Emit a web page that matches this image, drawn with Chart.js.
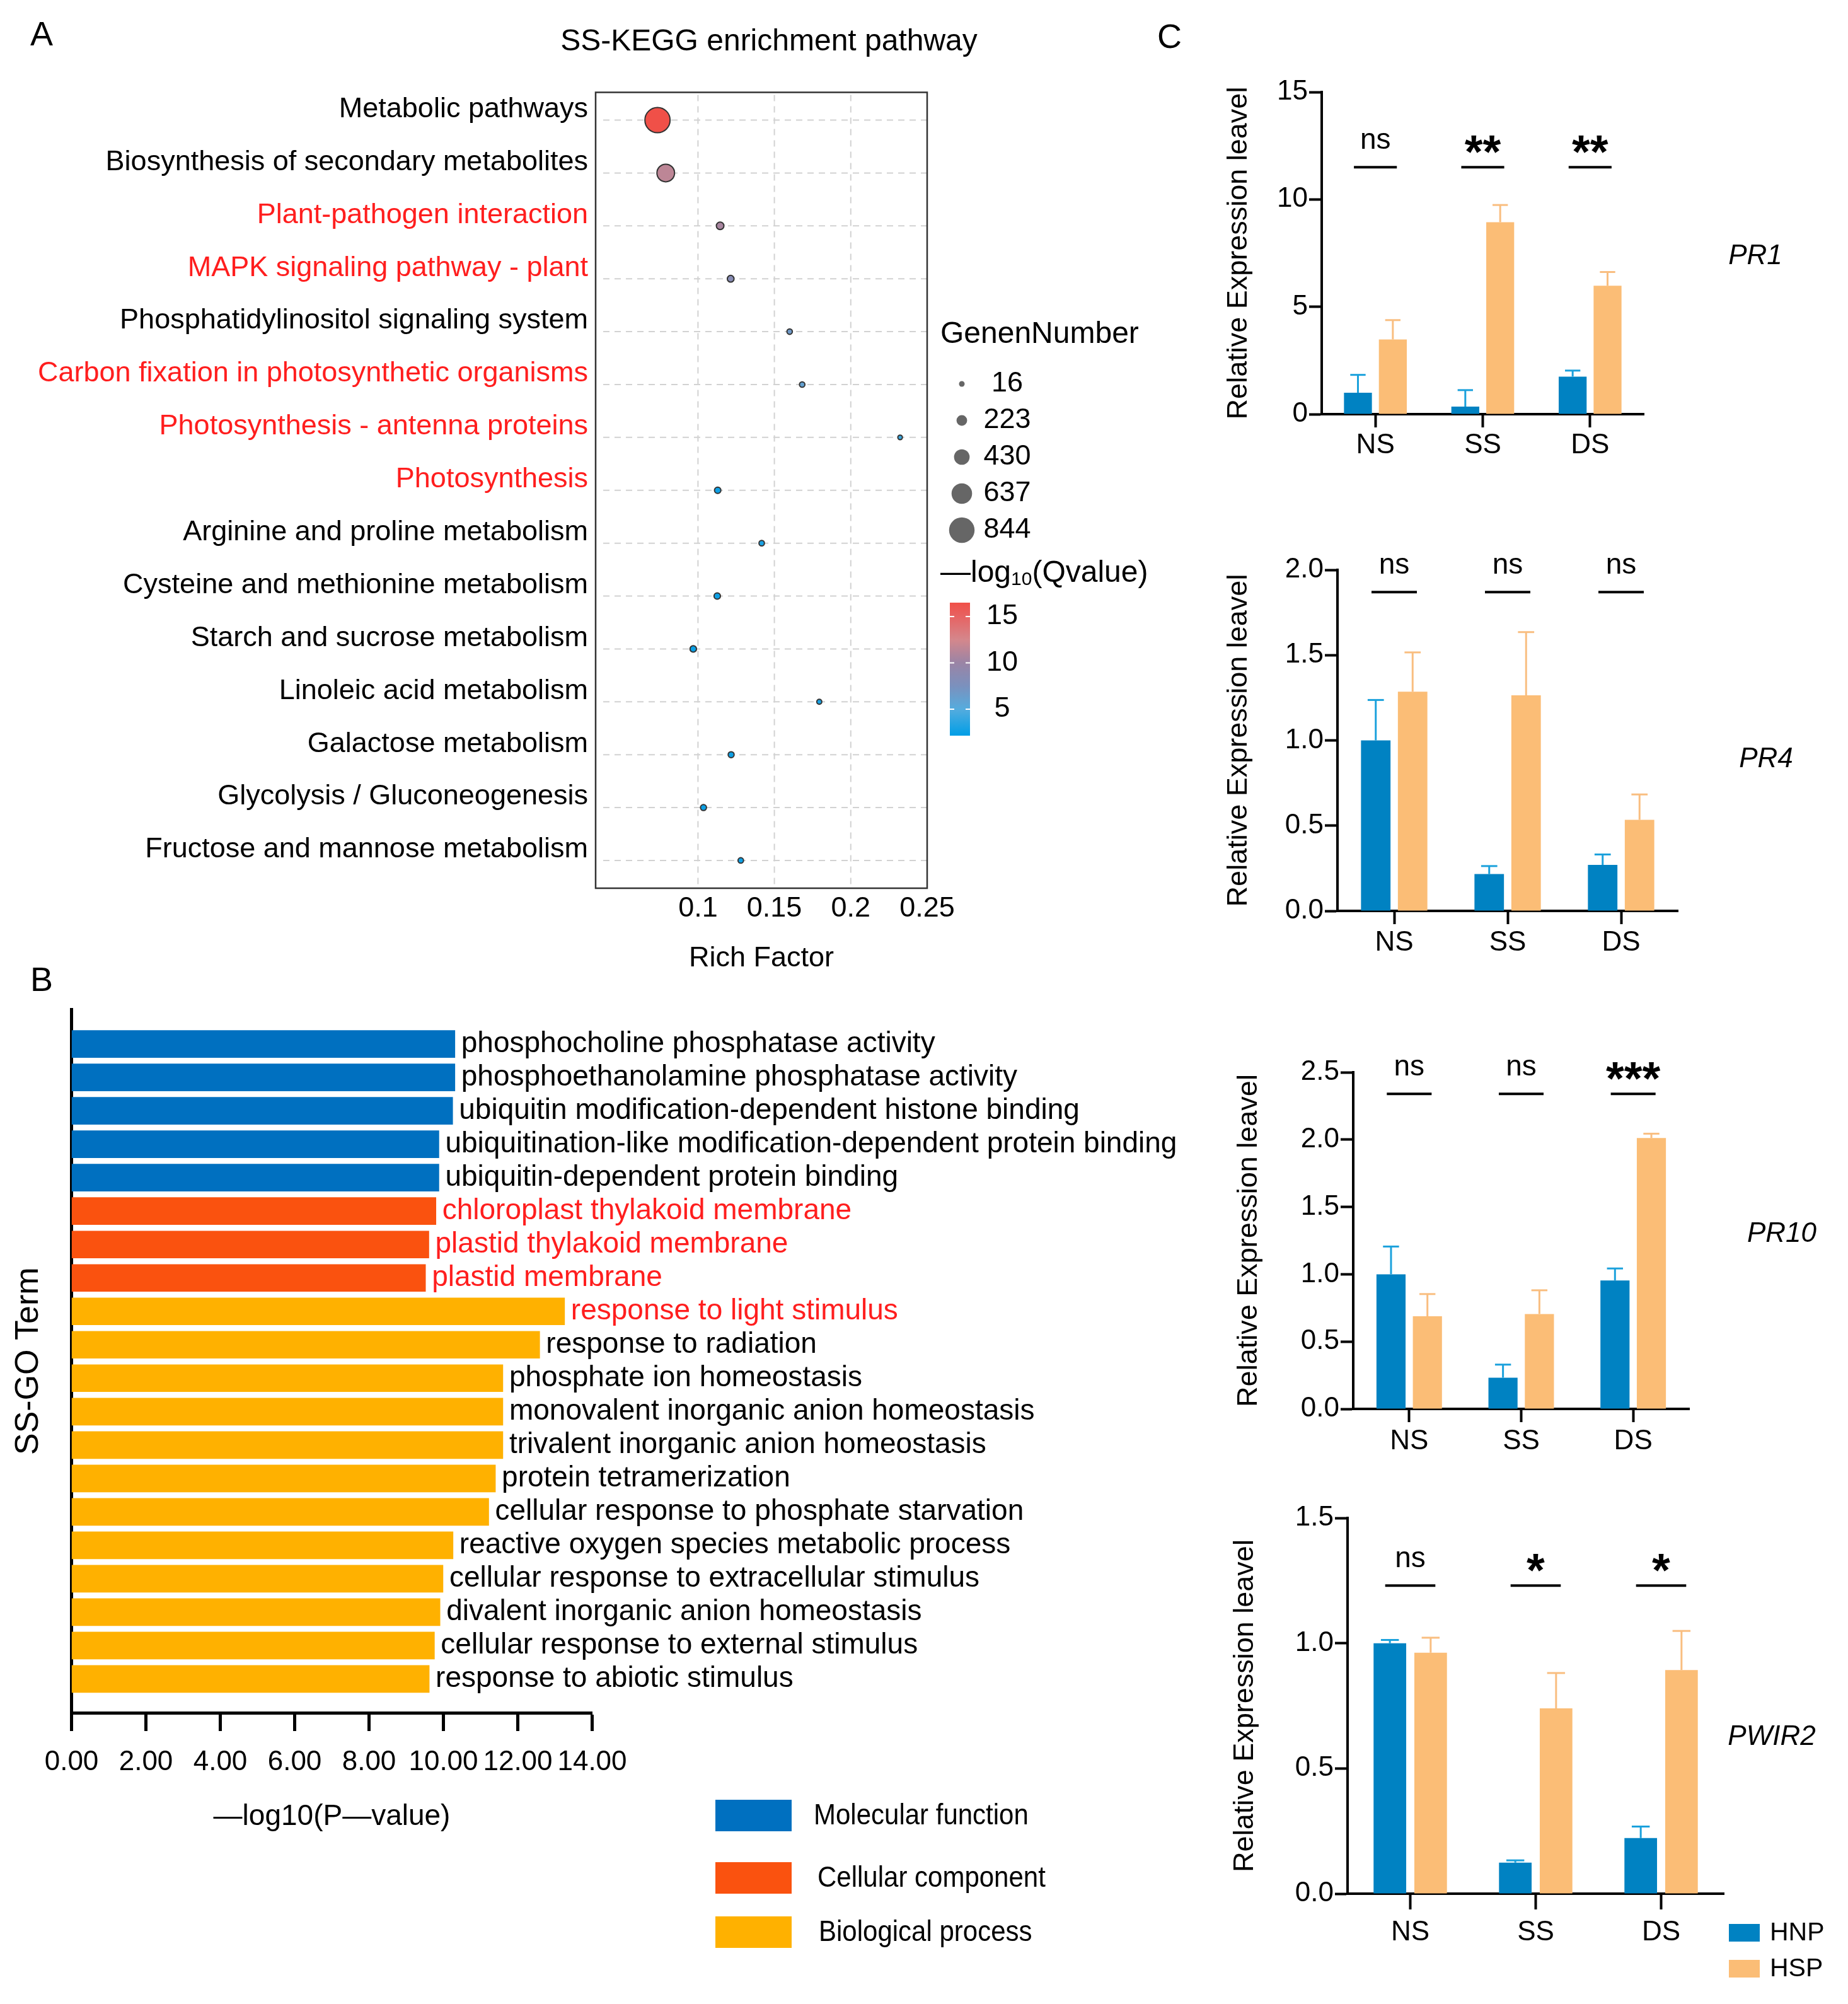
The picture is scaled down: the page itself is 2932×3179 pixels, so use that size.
<!DOCTYPE html>
<html><head><meta charset="utf-8">
<script src="https://cdn.jsdelivr.net/npm/chart.js@4.4.1/dist/chart.umd.min.js"></script>
<style>
html,body{margin:0;padding:0;background:#fff;}
body{width:2932px;height:3179px;position:relative;overflow:hidden;}
canvas{position:absolute;display:block;}
</style></head><body>
<canvas id="cA" width="1900" height="1560" style="left:0;top:0;width:1900px;height:1560px"></canvas>
<canvas id="cB" width="1900" height="1679" style="left:0;top:1500px;width:1900px;height:1679px"></canvas>
<canvas id="cPR1" width="1032" height="800" style="left:1900px;top:0;width:1032px;height:800px"></canvas>
<canvas id="cPR4" width="1032" height="760" style="left:1900px;top:800px;width:1032px;height:760px"></canvas>
<canvas id="cPR10" width="1032" height="770" style="left:1900px;top:1560px;width:1032px;height:770px"></canvas>
<canvas id="cPWIR2" width="1032" height="849" style="left:1900px;top:2330px;width:1032px;height:849px"></canvas>
<script>
// ---------------- DATA ----------------
// Panel A: KEGG enrichment bubble plot
const keggPathways = [
  'Metabolic pathways',
  'Biosynthesis of secondary metabolites',
  'Plant-pathogen interaction',
  'MAPK signaling pathway - plant',
  'Phosphatidylinositol signaling system',
  'Carbon fixation in photosynthetic organisms',
  'Photosynthesis - antenna proteins',
  'Photosynthesis',
  'Arginine and proline metabolism',
  'Cysteine and methionine metabolism',
  'Starch and sucrose metabolism',
  'Linoleic acid metabolism',
  'Galactose metabolism',
  'Glycolysis / Gluconeogenesis',
  'Fructose and mannose metabolism'
];
const keggHighlight = [0,0,1,1,0,1,1,1,0,0,0,0,0,0,0];
const keggRichFactor = [0.0735,0.0789,0.1145,0.1214,0.160,0.1682,0.2323,0.1129,0.1417,0.1126,0.0969,0.1794,0.1217,0.1036,0.128];
const keggGeneNumber = [884,568,148,113,60,60,24,100,60,100,103,42,82,82,63];
const keggQvalue = [16.5,11.5,10.6,8.5,6.7,6.0,4.1,2.6,3.0,2.6,2.4,3.0,2.6,2.5,2.6];
const keggXTicks = [0.1,0.15,0.2,0.25];
const geneLegendBreaks = [16,223,430,637,844];
const qLegendTicks = [15,10,5];
const qScaleRange = [2.14,16.5];

// Panel B: GO enrichment bars
const goTerms = [
  'phosphocholine phosphatase activity',
  'phosphoethanolamine phosphatase activity',
  'ubiquitin modification-dependent histone binding',
  'ubiquitination-like modification-dependent protein binding',
  'ubiquitin-dependent protein binding',
  'chloroplast thylakoid membrane',
  'plastid thylakoid membrane',
  'plastid membrane',
  'response to light stimulus',
  'response to radiation',
  'phosphate ion homeostasis',
  'monovalent inorganic anion homeostasis',
  'trivalent inorganic anion homeostasis',
  'protein tetramerization',
  'cellular response to phosphate starvation',
  'reactive oxygen species metabolic process',
  'cellular response to extracellular stimulus',
  'divalent inorganic anion homeostasis',
  'cellular response to external stimulus',
  'response to abiotic stimulus'
];
const goLogP = [10.31,10.31,10.25,9.88,9.88,9.80,9.61,9.52,13.26,12.59,11.60,11.60,11.60,11.40,11.22,10.26,9.99,9.91,9.76,9.62];
const goCategory = [0,0,0,0,0,1,1,1,2,2,2,2,2,2,2,2,2,2,2,2];
const goHighlight = [0,0,0,0,0,1,1,1,1,0,0,0,0,0,0,0,0,0,0,0];
const goCategoryNames = ['Molecular function','Cellular component','Biological process'];
const goXTickStep = 2;

// Panel C: qRT-PCR relative expression
const exprGroups = ['NS','SS','DS'];
const exprSeries = ['HNP','HSP'];
const pr1HNP = [1.0,0.35,1.75],   pr1HNPsd = [0.83,0.77,0.28];
const pr1HSP = [3.48,8.94,5.98],  pr1HSPsd = [0.90,0.80,0.64];
const pr1Sig = ['ns','**','**'];
const pr4HNP = [1.0,0.216,0.27],  pr4HNPsd = [0.237,0.047,0.061];
const pr4HSP = [1.286,1.264,0.534], pr4HSPsd = [0.23,0.371,0.149];
const pr4Sig = ['ns','ns','ns'];
const pr10HNP = [1.0,0.232,0.954], pr10HNPsd = [0.206,0.097,0.089];
const pr10HSP = [0.688,0.705,2.012], pr10HSPsd = [0.165,0.176,0.032];
const pr10Sig = ['ns','ns','***'];
const pwir2HNP = [1.0,0.124,0.222], pwir2HNPsd = [0.013,0.009,0.046];
const pwir2HSP = [0.962,0.74,0.893], pwir2HSPsd = [0.06,0.141,0.156];
const pwir2Sig = ['ns','*','*'];

// ---------------- STYLE ----------------
const FONT = '"Liberation Sans", Arial, Helvetica, sans-serif';
Chart.defaults.font.family = FONT;
Chart.defaults.font.size = 44;
Chart.defaults.color = '#000';
Chart.defaults.animation = false;
Chart.defaults.responsive = false;
Chart.defaults.maintainAspectRatio = false;
Chart.defaults.devicePixelRatio = 1;
Chart.defaults.events = [];
Chart.defaults.plugins.legend.display = false;
Chart.defaults.plugins.tooltip.enabled = false;

// colour map for -log10(Qvalue): [position 0..1, rgb]
const Q_STOPS = [
  [0.00,[0,158,230]],
  [0.20,[85,172,222]],
  [0.37,[122,145,190]],
  [0.55,[155,132,165]],
  [0.72,[212,135,140]],
  [0.89,[230,100,100]],
  [1.00,[240,80,72]]
];
const GO_COLORS = ['#0070C0','#FA520F','#FFB100'];
const RED_TEXT = '#FF1E1E';
const HNP_COLOR = '#0082C2', HSP_COLOR = '#FBBD76';
const HNP_ERR = '#1BA1DC', HSP_ERR = '#F9BE80';

function rgb(a){return 'rgb('+a.map(v=>Math.round(v)).join(',')+')';}
function mix(a,b,t){return a.map((v,i)=>v+(b[i]-v)*t);}
function rampColor(t){
  t=Math.max(0,Math.min(1,t));
  for(let i=1;i<Q_STOPS.length;i++){
    const [p1,c1]=Q_STOPS[i-1],[p2,c2]=Q_STOPS[i];
    if(t<=p2) return rgb(mix(c1,c2,(t-p1)/(p2-p1)));
  }
  return rgb(Q_STOPS[Q_STOPS.length-1][1]);
}
function qColor(q){return rampColor((q-qScaleRange[0])/(qScaleRange[1]-qScaleRange[0]));}
function geneDiameter(n){return 9+(n-16)*0.038;}
function line(ctx,x1,y1,x2,y2){ctx.beginPath();ctx.moveTo(x1,y1);ctx.lineTo(x2,y2);ctx.stroke();}
function centerText(ctx,str,x,cy,font,color,align){
  ctx.font=font;ctx.fillStyle=color;ctx.textAlign=align||'center';ctx.textBaseline='alphabetic';
  const m=ctx.measureText(str);
  ctx.fillText(str,x,cy+(m.actualBoundingBoxAscent-m.actualBoundingBoxDescent)/2);
}
function midText(ctx,str,x,y,font,color,align){
  ctx.font=font;ctx.fillStyle=color;ctx.textAlign=align||'left';ctx.textBaseline='middle';
  ctx.fillText(str,x,y);
}

// ---------------- PANEL A ----------------
const panelAPlugin = {
  id:'panelA',
  beforeDatasetsDraw(chart){
    const {ctx, chartArea:a, scales:{x,y}} = chart;
    ctx.save();
    ctx.strokeStyle='#D2D2D2'; ctx.lineWidth=2; ctx.setLineDash([10,8]);
    y.ticks.forEach(t=>{const py=y.getPixelForValue(t.value); line(ctx,a.left+12,py,a.right,py);});
    x.ticks.forEach(t=>{const px=x.getPixelForValue(t.value); line(ctx,px,a.top+4,px,a.bottom-4);});
    ctx.restore();
  },
  afterDraw(chart){
    const {ctx, chartArea:a} = chart;
    ctx.save();
    ctx.strokeStyle='#333'; ctx.lineWidth=2.5; ctx.setLineDash([]);
    ctx.strokeRect(a.left,a.top,a.right-a.left,a.bottom-a.top);
    // panel letters and title
    midText(ctx,'A',48,57,'54px '+FONT,'#000','left');
    midText(ctx,'C',1836,61,'54px '+FONT,'#000','left');
    midText(ctx,'SS-KEGG enrichment pathway',1220,67,'48px '+FONT,'#000','center');
    // size legend
    midText(ctx,'GenenNumber',1492,531,'48px '+FONT,'#000','left');
    geneLegendBreaks.forEach((n,i)=>{
      const cy=609+i*58;
      ctx.fillStyle='#666'; ctx.beginPath(); ctx.arc(1526,cy,geneDiameter(n)/2,0,Math.PI*2); ctx.fill();
      midText(ctx,String(n),1598,cy,'45px '+FONT,'#000','center');
    });
    // color legend title: —log10(Qvalue)
    ctx.font='48px '+FONT; ctx.fillStyle='#000'; ctx.textAlign='left'; ctx.textBaseline='middle';
    let tx=1492;
    ctx.fillText('\u2014log',tx,910); tx+=ctx.measureText('\u2014log').width;
    ctx.font='30px '+FONT; ctx.fillText('10',tx,920); tx+=ctx.measureText('10').width;
    ctx.font='48px '+FONT; ctx.fillText('(Qvalue)',tx,910);
    // colorbar
    const cbTop=956, cbBot=1167, cbL=1507, cbR=1539;
    const g=ctx.createLinearGradient(0,cbBot,0,cbTop);
    Q_STOPS.forEach(([p,c])=>g.addColorStop(p,rgb(c)));
    ctx.fillStyle=g; ctx.fillRect(cbL,cbTop,cbR-cbL,cbBot-cbTop);
    const qy=v=>cbBot-(v-qScaleRange[0])/(qScaleRange[1]-qScaleRange[0])*(cbBot-cbTop);
    ctx.strokeStyle='#fff'; ctx.lineWidth=2;
    qLegendTicks.forEach(v=>{
      const yy=qy(v);
      line(ctx,cbL,yy,cbL+7,yy); line(ctx,cbR-7,yy,cbR,yy);
      midText(ctx,String(v),1590,yy,'45px '+FONT,'#000','center');
    });
    ctx.restore();
  }
};

new Chart(document.getElementById('cA'),{
  type:'scatter',
  data:{datasets:[{
    data: keggRichFactor.map((v,i)=>({x:v,y:i})),
    pointRadius: c=>geneDiameter(keggGeneNumber[c.dataIndex])/2-1,
    pointBackgroundColor: c=>qColor(keggQvalue[c.dataIndex]),
    pointBorderColor:'#333', pointBorderWidth:2,
    clip:false
  }]},
  options:{
    layout:{padding:{left:0,right:1900-1471,top:146.5,bottom:0}},
    scales:{
      x:{type:'linear',min:0.033,max:0.25,
        afterBuildTicks:s=>{s.ticks=keggXTicks.map(v=>({value:v}));},
        afterFit:s=>{s.height=1560-1409;},
        grid:{display:false,drawTicks:false}, border:{display:false},
        ticks:{padding:6,font:{size:45},color:'#000',maxRotation:0,autoSkip:false,callback:v=>String(v)},
        title:{display:true,text:'Rich Factor',font:{size:45},color:'#000',padding:{top:0,bottom:12}}},
      y:{type:'linear',reverse:true,min:-0.525,max:14.525,
        afterBuildTicks:s=>{s.ticks=keggPathways.map((_,i)=>({value:i}));},
        afterFit:s=>{s.width=945;},
        grid:{display:false,drawTicks:false}, border:{display:false},
        ticks:{padding:12,labelOffset:-17,font:{size:45},autoSkip:false,
          color:c=>keggHighlight[c.index]?RED_TEXT:'#000',
          callback:(v,i)=>keggPathways[i]}}
    }
  },
  plugins:[panelAPlugin]
});

// ---------------- PANEL B ----------------
const panelBPlugin = {
  id:'panelB',
  afterDatasetsDraw(chart){
    const {ctx} = chart;
    const meta = chart.getDatasetMeta(0);
    ctx.save();
    meta.data.forEach((bar,i)=>{
      midText(ctx,goTerms[i],bar.x+10,bar.y,'46px '+FONT,goHighlight[i]?RED_TEXT:'#000','left');
    });
    ctx.restore();
  },
  afterDraw(chart){
    const {ctx} = chart;
    ctx.save();
    midText(ctx,'B',48,57,'54px '+FONT,'#000','left');
    const sy=[1355,1454,1540], txs=[1291,1297,1299];
    goCategoryNames.forEach((n,i)=>{
      ctx.fillStyle=GO_COLORS[i]; ctx.fillRect(1135,sy[i],121,50);
      ctx.save();
      ctx.translate(txs[i],sy[i]+26); ctx.scale(1,1.12);
      midText(ctx,n,0,0,'42px '+FONT,'#000','left');
      ctx.restore();
    });
    ctx.restore();
  }
};

new Chart(document.getElementById('cB'),{
  type:'bar',
  data:{datasets:[{
    data: goLogP.map((v,i)=>({x:v,y:i})),
    backgroundColor: c=>GO_COLORS[goCategory[c.dataIndex]],
    barThickness:43
  }]},
  options:{
    indexAxis:'y',
    layout:{padding:{left:0,right:1900-939.5,top:101.5,bottom:0}},
    scales:{
      x:{type:'linear',min:0,max:14,
        afterFit:s=>{s.height=1679-1217;},
        ticks:{stepSize:goXTickStep,padding:23,font:{size:44},maxRotation:0,autoSkip:false,callback:v=>Number(v).toFixed(2)},
        grid:{display:true,drawOnChartArea:false,drawTicks:true,tickLength:29,tickWidth:5,tickColor:'#000'},
        border:{display:true,width:5,color:'#000'},
        title:{display:true,text:'\u2014log10(P\u2014value)',font:{size:46},padding:{top:0,bottom:269}}},
      y:{type:'linear',reverse:true,min:-1.03,max:20.01,offset:false,
        afterFit:s=>{s.width=113.5;},
        ticks:{display:false},
        grid:{display:false,drawTicks:false,offset:false},
        border:{display:true,width:5,color:'#000'},
        title:{display:true,text:'SS-GO Term',font:{size:52},padding:{top:14,bottom:0}}}
    }
  },
  plugins:[panelBPlugin]
});

// ---------------- PANEL C ----------------
function exprPlugin(spec){
  return {
    id:'expr_'+spec.gene,
    afterDatasetsDraw(chart){
      const {ctx} = chart; const x=chart.scales.x, y=chart.scales.y;
      ctx.save();
      [spec.hnpSd,spec.hspSd].forEach((sd,di)=>{
        const meta=chart.getDatasetMeta(di);
        const vals=chart.data.datasets[di].data;
        ctx.strokeStyle=di===0?HNP_ERR:HSP_ERR; ctx.lineWidth=3;
        meta.data.forEach((bar,j)=>{
          const top=y.getPixelForValue(vals[j]+sd[j]);
          line(ctx,bar.x,bar.y,bar.x,top);
          const cw=bar.width*0.55/2;
          line(ctx,bar.x-cw,top,bar.x+cw,top);
        });
      });
      const catW=x.width/exprGroups.length;
      const ly=y.getPixelForValue(spec.sigLevel);
      ctx.strokeStyle='#000'; ctx.lineWidth=4;
      spec.sig.forEach((s,j)=>{
        const cx=x.getPixelForValue(j);
        line(ctx,cx-0.2*catW,ly,cx+0.2*catW,ly);
        if(s==='ns') centerText(ctx,s,cx,ly-42,'46px '+FONT,'#000');
        else centerText(ctx,s,cx,ly-36,'bold 74px '+FONT,'#000');
      });
      ctx.restore();
    },
    afterDraw(chart){
      const {ctx}=chart;
      ctx.save();
      centerText(ctx,spec.gene,spec.geneX,spec.geneY,'italic 44px '+FONT,'#000');
      if(spec.legend){
        [HNP_COLOR,HSP_COLOR].forEach((c,i)=>{
          const yy=722+i*57;
          ctx.fillStyle=c; ctx.fillRect(843,yy,49,28);
          midText(ctx,exprSeries[i],908,yy+15,'41px '+FONT,'#000','left');
        });
      }
      ctx.restore();
    }
  };
}

function exprChart(id,spec){
  const W=1032;
  return new Chart(document.getElementById(id),{
    type:'bar',
    data:{labels:exprGroups,datasets:[
      {label:exprSeries[0],data:spec.hnp,backgroundColor:HNP_COLOR,categoryPercentage:0.65,barPercentage:0.8},
      {label:exprSeries[1],data:spec.hsp,backgroundColor:HSP_COLOR,categoryPercentage:0.65,barPercentage:0.8}
    ]},
    options:{
      layout:{padding:{left:0,right:W-spec.area.right,top:spec.area.top,bottom:0}},
      scales:{
        x:{afterFit:s=>{s.height=spec.h-spec.area.bottom;},
          grid:{display:true,drawOnChartArea:false,offset:false,drawTicks:true,tickLength:spec.xTick,tickWidth:4,tickColor:'#000'},
          border:{display:true,width:4,color:'#000'},
          ticks:{font:{size:44},padding:spec.xPad,maxRotation:0,autoSkip:false}},
        y:{min:0,max:spec.yMax,
          afterFit:s=>{s.width=spec.area.left;},
          ticks:{stepSize:spec.yStep,font:{size:44},padding:2,callback:v=>Number(v).toFixed(spec.dec)},
          grid:{display:true,drawOnChartArea:false,drawTicks:true,tickLength:20,tickWidth:4,tickColor:'#000'},
          border:{display:true,width:4,color:'#000'},
          title:{display:true,text:'Relative Expression leavel',font:{size:45},padding:{top:spec.titlePad,bottom:0}}}
      }
    },
    plugins:[exprPlugin(spec)]
  });
}

exprChart('cPR1',{gene:'PR1',h:800,area:{left:197,right:708,top:146,bottom:657},xTick:21,xPad:2,titlePad:39,
  yMax:15,yStep:5,dec:0,sigLevel:11.5,hnp:pr1HNP,hnpSd:pr1HNPsd,hsp:pr1HSP,hspSd:pr1HSPsd,sig:pr1Sig,geneX:885,geneY:403});
exprChart('cPR4',{gene:'PR4',h:760,area:{left:222,right:762,top:104,bottom:645},xTick:21,xPad:3,titlePad:39,
  yMax:2,yStep:0.5,dec:1,sigLevel:1.87,hnp:pr4HNP,hnpSd:pr4HNPsd,hsp:pr4HSP,hspSd:pr4HSPsd,sig:pr4Sig,geneX:902,geneY:401});
exprChart('cPR10',{gene:'PR10',h:770,area:{left:247,right:780,top:141,bottom:675},xTick:21,xPad:4,titlePad:55,
  yMax:2.5,yStep:0.5,dec:1,sigLevel:2.34,hnp:pr10HNP,hnpSd:pr10HNPsd,hsp:pr10HSP,hspSd:pr10HSPsd,sig:pr10Sig,geneX:927,geneY:394});
exprChart('cPWIR2',{gene:'PWIR2',h:849,area:{left:238,right:835,top:78,bottom:674},xTick:25,xPad:10,titlePad:49,
  yMax:1.5,yStep:0.5,dec:1,sigLevel:1.23,hnp:pwir2HNP,hnpSd:pwir2HNPsd,hsp:pwir2HSP,hspSd:pwir2HSPsd,sig:pwir2Sig,geneX:911,geneY:422,legend:true});
</script>
</body></html>
